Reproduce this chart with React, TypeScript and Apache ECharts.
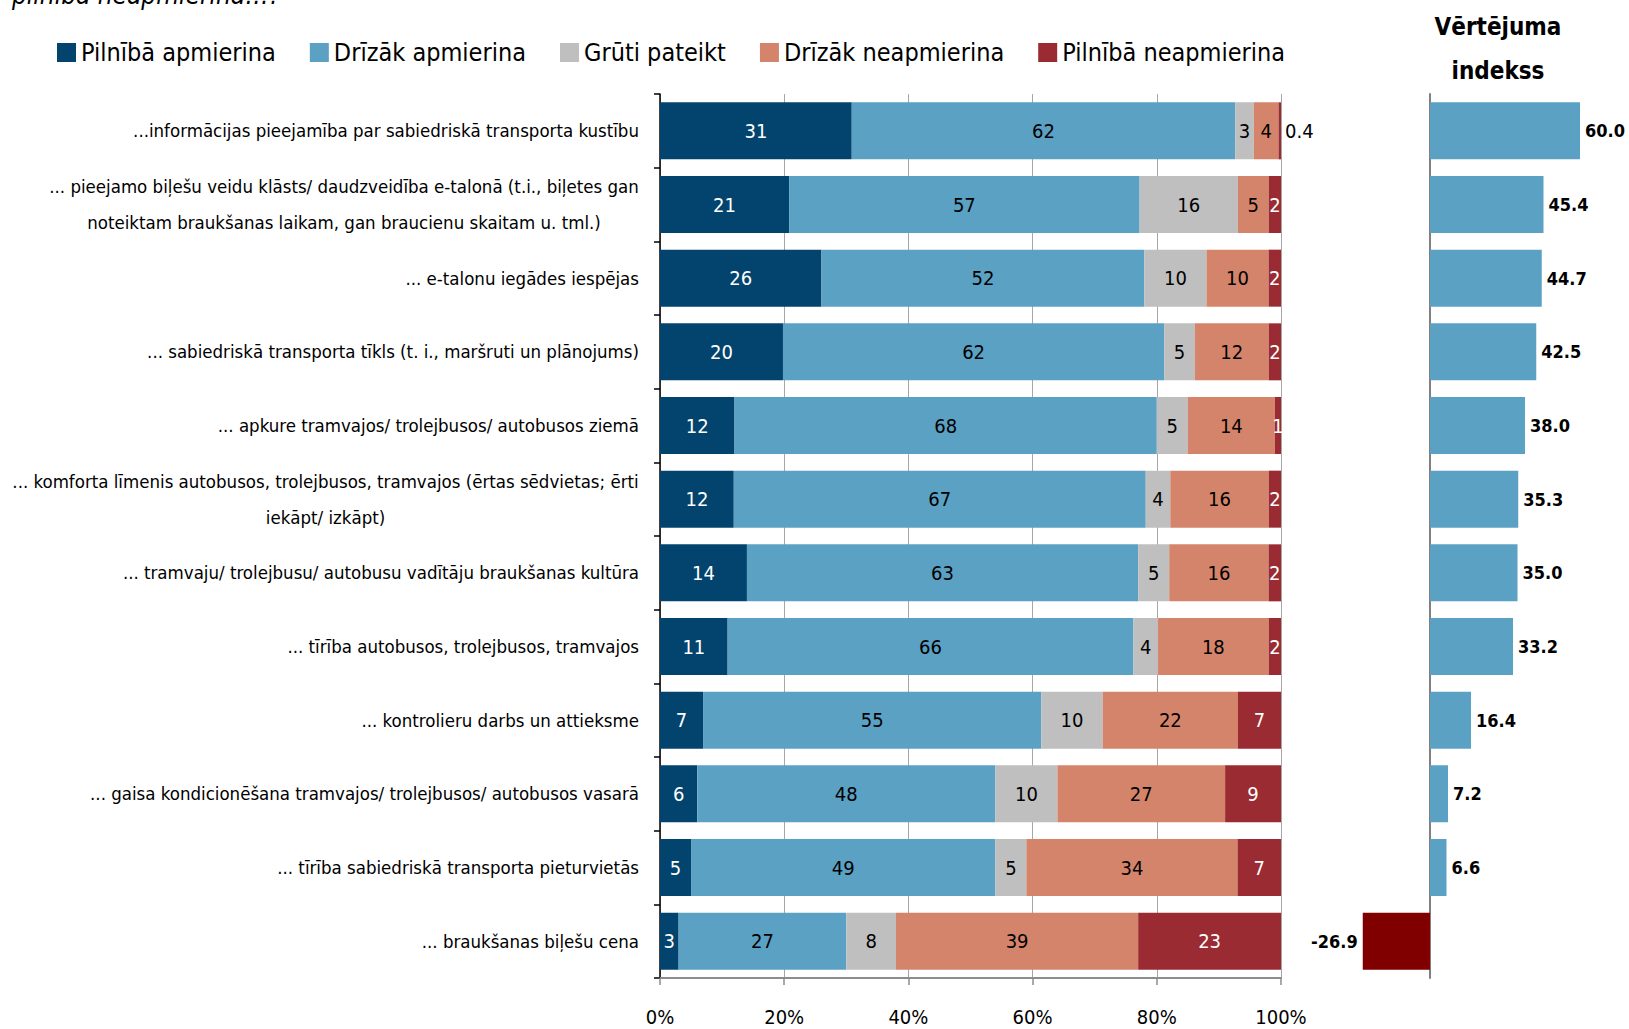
import React, { useEffect, useRef } from "react";
import * as echarts from "echarts";

const categories = [
  "...informācijas pieejamība par sabiedriskā transporta kustību",
  "... pieejamo biļešu veidu klāsts/ daudzveidība e-talonā (t.i., biļetes gan\nnoteiktam braukšanas laikam, gan braucienu skaitam u. tml.)",
  "... e-talonu iegādes iespējas",
  "... sabiedriskā transporta tīkls (t. i., maršruti un plānojums)",
  "... apkure tramvajos/ trolejbusos/ autobusos ziemā",
  "... komforta līmenis autobusos, trolejbusos, tramvajos (ērtas sēdvietas; ērti\niekāpt/ izkāpt)",
  "... tramvaju/ trolejbusu/ autobusu vadītāju braukšanas kultūra",
  "... tīrība autobusos, trolejbusos, tramvajos",
  "... kontrolieru darbs un attieksme",
  "... gaisa kondicionēšana tramvajos/ trolejbusos/ autobusos vasarā",
  "... tīrība sabiedriskā transporta pieturvietās",
  "... braukšanas biļešu cena",
];

const seriesNames = [
  "Pilnībā apmierina",
  "Drīzāk apmierina",
  "Grūti pateikt",
  "Drīzāk neapmierina",
  "Pilnībā neapmierina",
];

const pilnibaApmierina = [31, 21, 26, 20, 12, 12, 14, 11, 7, 6, 5, 3];
const drizakApmierina = [62, 57, 52, 62, 68, 67, 63, 66, 55, 48, 49, 27];
const grutiPateikt = [3, 16, 10, 5, 5, 4, 5, 4, 10, 10, 5, 8];
const drizakNeapmierina = [4, 5, 10, 12, 14, 16, 16, 18, 22, 27, 34, 39];
const pilnibaNeapmierina = [0.4, 2, 2, 2, 1, 2, 2, 2, 7, 9, 7, 23];

const vertejumaIndekss = [60.0, 45.4, 44.7, 42.5, 38.0, 35.3, 35.0, 33.2, 16.4, 7.2, 6.6, -26.9];

const colors = ["#03446E", "#5BA1C4", "#BFBFBF", "#D4846A", "#9B2B32"];
const labelColors = ["#FFFFFF", "#000000", "#000000", "#000000", "#FFFFFF"];

const FONT = "'DejaVu Sans Condensed', sans-serif";

function measure(text: string, size: number): number {
  const c = document.createElement("canvas");
  const ctx = c.getContext("2d");
  if (!ctx) return text.length * size * 0.45;
  ctx.font = `${size}px ${FONT}`;
  return ctx.measureText(text).width;
}

export default function App() {
  const ref = useRef<HTMLDivElement>(null);

  useEffect(() => {
    if (!ref.current) return;
    const chart = echarts.init(ref.current, null, { renderer: "svg" });

    const allSeries = [pilnibaApmierina, drizakApmierina, grutiPateikt, drizakNeapmierina, pilnibaNeapmierina];
    const rowSums = categories.map((_, i) => allSeries.reduce((s, arr) => s + arr[i], 0));

    const catSize = 18.5;
    const rich: Record<string, any> = {};
    categories.forEach((cat, i) => {
      const lines = cat.split("\n");
      const st: any = { fontSize: catSize, fontFamily: FONT, color: "#000", lineHeight: 36 };
      if (lines.length > 1) {
        st.width = Math.ceil(Math.max(...lines.map((l) => measure(l, catSize))));
        st.align = "center";
      }
      rich["r" + i] = st;
    });

    const barW = 57;

    const stackSeries = allSeries.map((arr, si) => ({
      name: seriesNames[si],
      type: "bar",
      stack: "total",
      xAxisIndex: 0,
      yAxisIndex: 0,
      barWidth: barW,
      itemStyle: { color: colors[si] },
      label: {
        show: true,
        position: "inside",
        color: labelColors[si],
        fontSize: 20,
        fontFamily: FONT,
        formatter: (p: any) => String(p.data.raw),
      },
      data: arr.map((v, i) => {
        const item: any = { value: (v / rowSums[i]) * 100, raw: v };
        if (v < 1) {
          item.label = { position: "right", color: "#000", distance: 4 };
        }
        return item;
      }),
    }));

    const option: any = {
      animation: false,
      backgroundColor: "#ffffff",
      textStyle: { fontFamily: FONT },
      color: colors,
      legend: {
        data: seriesNames,
        left: 52,
        top: 35,
        itemWidth: 19,
        itemHeight: 19,
        itemGap: 34,
        icon: "rect",
        textStyle: { fontSize: 25, fontFamily: FONT, color: "#000" },
      },
      graphic: [
        {
          type: "text",
          x: 12,
          y: 8,
          style: {
            text: "pilnībā neapmierina…?",
            fontSize: 26,
            fontStyle: "italic",
            fontFamily: FONT,
            fill: "#000",
            align: "left",
            verticalAlign: "bottom",
          },
        },
        {
          type: "text",
          x: 1498,
          y: 49,
          style: {
            text: "Vērtējuma\nindekss",
            fontSize: 24,
            fontWeight: "bold",
            fontFamily: FONT,
            fill: "#000",
            align: "center",
            verticalAlign: "middle",
            lineHeight: 44,
          },
        },
      ],
      grid: [
        { left: 660, right: 348, top: 94, bottom: 51, outerBoundsMode: "none", containLabel: false },
        { left: 1355, right: 24, top: 94, bottom: 51, outerBoundsMode: "none", containLabel: false },
      ],
      xAxis: [
        {
          gridIndex: 0,
          type: "value",
          min: 0,
          max: 100,
          interval: 20,
          axisLine: { show: true, lineStyle: { color: "#8C8C8C", width: 2 } },
          axisTick: { show: true, length: 7, lineStyle: { color: "#8C8C8C", width: 1.5 } },
          splitLine: { show: true, lineStyle: { color: "#A6A6A6", width: 1 } },
          axisLabel: {
            formatter: "{value}%",
            fontSize: 20,
            fontFamily: FONT,
            color: "#000",
            margin: 29,
          },
        },
        {
          gridIndex: 1,
          type: "value",
          min: -30,
          max: 70,
          show: false,
          splitLine: { show: false },
        },
      ],
      yAxis: [
        {
          gridIndex: 0,
          type: "category",
          inverse: true,
          data: categories,
          axisLine: { show: true, lineStyle: { color: "#000", width: 1.5 } },
          axisTick: { show: true, length: 6, lineStyle: { color: "#000", width: 1.5 } },
          axisLabel: {
            margin: 21,
            formatter: (v: string, i: number) => `{r${i}|${v}}`,
            rich,
          },
        },
        {
          gridIndex: 1,
          type: "category",
          inverse: true,
          data: categories,
          axisLine: { show: true, lineStyle: { color: "#808080", width: 2 } },
          axisTick: { show: false },
          axisLabel: { show: false },
        },
      ],
      series: [
        ...stackSeries,
        {
          name: "Vērtējuma indekss",
          type: "bar",
          xAxisIndex: 1,
          yAxisIndex: 1,
          barWidth: barW,
          data: vertejumaIndekss.map((v) => ({
            value: v,
            itemStyle: { color: v >= 0 ? "#5BA1C4" : "#800000" },
            label: {
              show: true,
              position: v >= 0 ? "right" : "left",
              distance: 5,
              formatter: v.toFixed(1),
              fontSize: 18,
              fontWeight: "bold",
              fontFamily: FONT,
              color: "#000",
            },
          })),
        },
      ],
    };

    chart.setOption(option);
    return () => chart.dispose();
  }, []);

  return (
    <div
      ref={ref}
      style={{ position: "absolute", left: 0, top: 0, width: 1629, height: 1029, background: "#fff" }}
    />
  );
}
